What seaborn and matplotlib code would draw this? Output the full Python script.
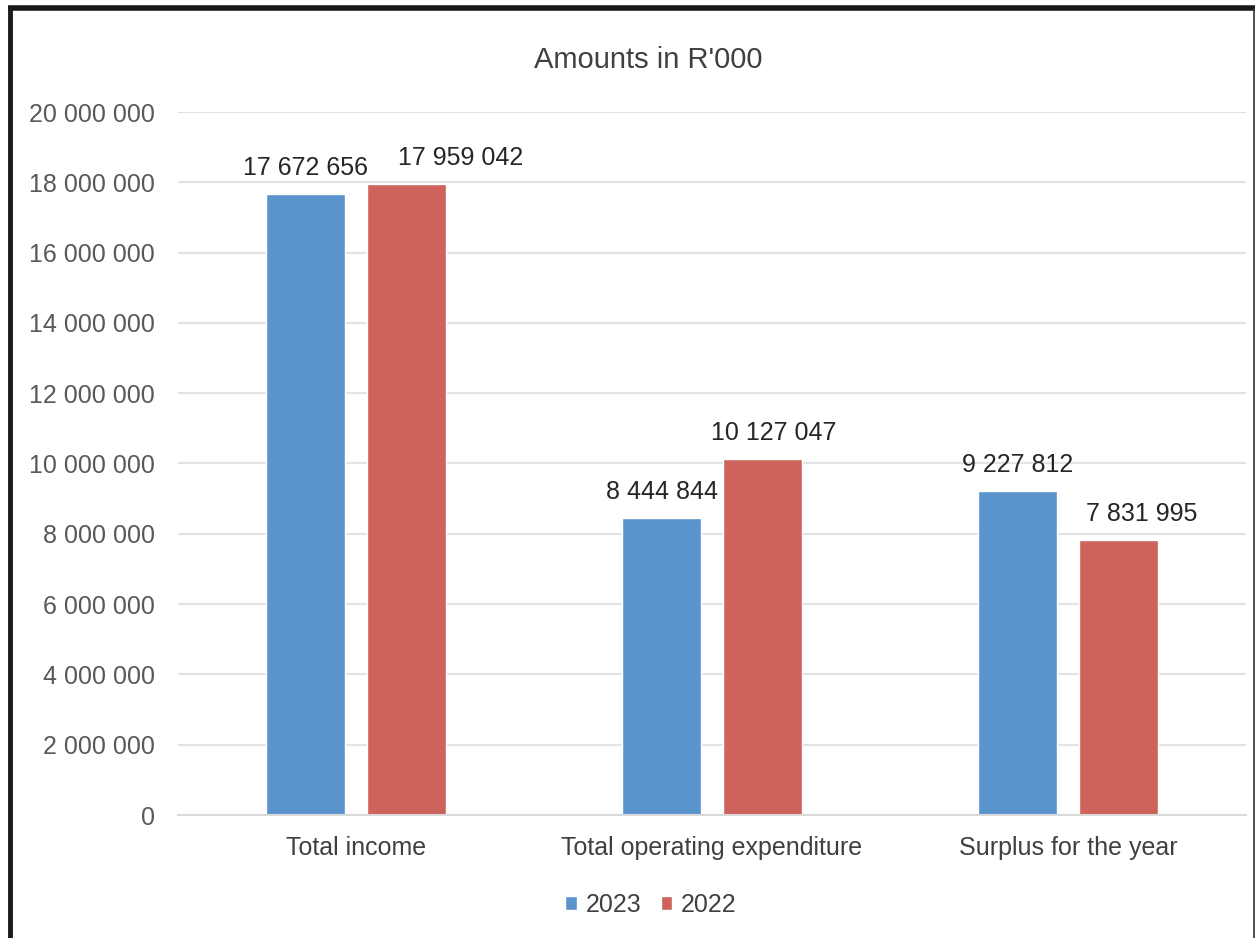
import matplotlib
matplotlib.use("Agg")
import matplotlib.pyplot as plt
import matplotlib.lines as mlines
import seaborn as sns
import pandas as pd

categories = ["Total income", "Total operating expenditure", "Surplus for the year"]
values_2023 = [17672656, 8444844, 9227812]
values_2022 = [17959042, 10127047, 7831995]
years = ["2023", "2022"]
y_ticks = [0, 2000000, 4000000, 6000000, 8000000, 10000000, 12000000, 14000000, 16000000, 18000000, 20000000]
title = "Amounts in R'000"

df = pd.DataFrame({
    "category": categories * 2,
    "year": [years[0]] * 3 + [years[1]] * 3,
    "value": values_2023 + values_2022,
})

sns.set_theme(style="white")
plt.rcParams["font.family"] = ["Liberation Sans", "DejaVu Sans"]

W, H = 1255, 938
fig = plt.figure(figsize=(W / 100, H / 100), dpi=100)
ax = fig.add_axes([178 / W, 1 - 815 / H, (1246 - 178) / W, (815 - 112) / H])

palette = {"2023": "#5B94CC", "2022": "#CD635A"}
sns.barplot(data=df, x="category", y="value", hue="year", order=categories,
            hue_order=years, palette=palette, width=0.567, gap=0.22,
            saturation=1, ax=ax, legend=True)

def fmt(v):
    return f"{int(v):,}".replace(",", " ")

# horizontal nudges (pixels) of the data labels, as placed in the reference
label_shift_px = [[0, 0, 0], [54, 11, 23]]
for ci, cont in enumerate(ax.containers):
    anns = ax.bar_label(cont, labels=[fmt(v) for v in cont.datavalues], padding=10,
                        fontsize=18, color="#262626")
    for ai, ann in enumerate(anns):
        ann.xyann = (label_shift_px[ci][ai] * 72 / 100, 10)

ax.set_ylim(0, 20000000)
ax.set_xlim(-0.5, 2.5)
ax.set_yticks(y_ticks)
ax.set_yticklabels([fmt(t) for t in y_ticks])
ax.yaxis.grid(True, color="#E3E3E3", linewidth=1.5)
ax.set_axisbelow(True)
for s in ["left", "right", "top"]:
    ax.spines[s].set_visible(False)
ax.spines["bottom"].set_color("#DADADA")
ax.spines["bottom"].set_linewidth(1.5)
ax.tick_params(axis="y", length=0, pad=16.5, labelsize=18, labelcolor="#595959")
ax.tick_params(axis="x", length=0, pad=15, labelsize=18, labelcolor="#404040")
ax.set_xlabel("")
ax.set_ylabel("")

fig.text(648 / W, 1 - 60 / H, title, ha="center", va="center", fontsize=21, color="#404040")

leg = ax.legend(loc="center", bbox_to_anchor=((651 - 178) / (1246 - 178), -(905 - 815) / (815 - 112)),
                ncol=2, frameon=False,
                fontsize=18, handlelength=0.45, handleheight=0.45, handletextpad=0.35,
                columnspacing=0.8)
for t in leg.get_texts():
    t.set_color("#404040")

# figure border
fig.add_artist(mlines.Line2D([8 / W, 1], [1 - 8 / H, 1 - 8 / H], color="#1a1a1a", linewidth=4,
                             solid_capstyle="butt", transform=fig.transFigure))
fig.add_artist(mlines.Line2D([10 / W, 10 / W], [0, 1 - 6 / H], color="#1a1a1a", linewidth=3.5,
                             solid_capstyle="butt", transform=fig.transFigure))
fig.add_artist(mlines.Line2D([1253.5 / W, 1253.5 / W], [0, 1 - 8 / H], color="#333333", linewidth=1.2,
                             solid_capstyle="butt", transform=fig.transFigure))

fig.savefig("out.png", dpi=100)
